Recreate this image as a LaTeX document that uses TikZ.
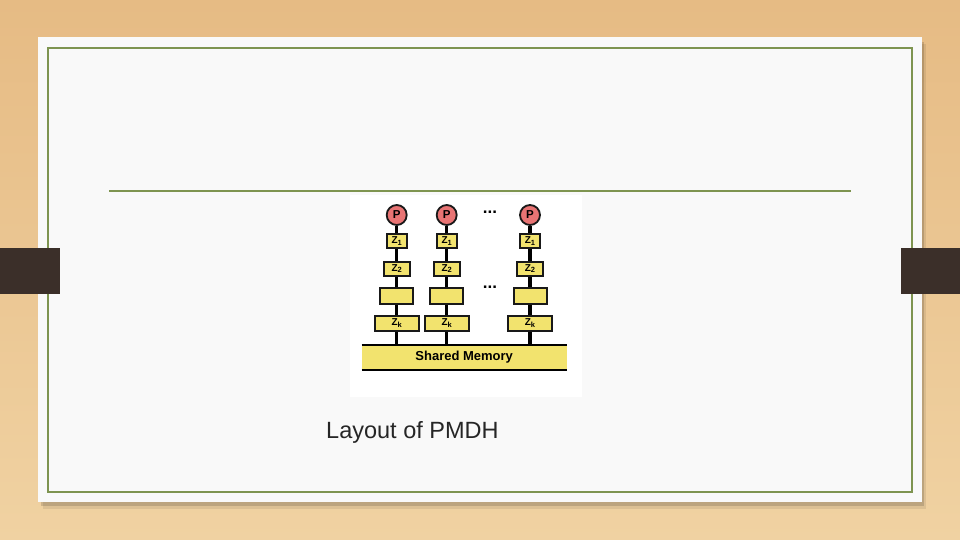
\documentclass[tikz,border=0pt]{standalone}
\usepackage{fontspec}
\setmainfont{Liberation Sans}
\definecolor{woodA}{HTML}{E6BB84}
\definecolor{woodB}{HTML}{F0D2A2}
\definecolor{panel}{HTML}{F9F9F9}
\definecolor{frame}{HTML}{7E9450}
\definecolor{tab}{HTML}{3B2F29}
\definecolor{boxy}{HTML}{F2E36E}
\definecolor{pcol}{HTML}{E87474}
\tikzset{
  zbox/.style={draw=black!90, line width=2pt, fill=boxy, inner sep=0pt, font=\fontsize{10}{10}\selectfont\bfseries},
  pnode/.style={circle, draw=black!90, line width=1.8pt, fill=pcol, minimum size=20pt, inner sep=0pt, font=\fontsize{11.5}{11.5}\selectfont\bfseries},
  bus/.style={line width=3.2pt, black},
  dots/.style={font=\fontsize{17}{17}\selectfont\bfseries}
}
\newcommand{\zsub}[1]{Z{\fontsize{7.5}{7.5}\selectfont\raisebox{-1.5pt}{#1}}}
\begin{document}
\begin{tikzpicture}[x=1pt,y=-1pt]
\useasboundingbox (0,0) rectangle (960,540);
% background wood
\shade[top color=woodA, bottom color=woodB] (0,0) rectangle (960,540);
% panel shadow
\fill[black, opacity=0.14] (41,42) rectangle (924,506);
\fill[black, opacity=0.08] (43,44) rectangle (926,509);
% panel
\fill[panel] (38,37) rectangle (922,502);
\draw[frame, line width=2pt] (47.8,48.3) rectangle (912.4,491.7);
% tabs
\fill[tab] (0,248) rectangle (60,294);
\fill[tab] (900.5,248) rectangle (960,294);
% title rule
\draw[frame, line width=2pt] (109,191) -- (851,191);
% image area
\fill[white] (350,195) rectangle (582,397);
% shared memory bar
\node[fill=boxy, minimum width=205pt, minimum height=25pt, inner sep=0pt,
      font=\fontsize{13}{13}\selectfont\bfseries] (sm) at (464.2,357.5) {Shared Memory};
\draw[line width=2.5pt, black] (sm.north west) -- (sm.north east);
\draw[line width=2.5pt, black] (sm.south west) -- (sm.south east);
% processors
\node[pnode] (p1) at (396.7,215) {P};
\node[pnode] (p2) at (446.7,215) {P};
\node[pnode] (p3) at (530,215) {P};
% buses
\foreach \i in {1,2,3}{
  \draw[bus] (p\i.south) -- (p\i |- sm.north);
}
% boxes
\foreach \i/\x in {1/396.7,2/446.7,3/530}{
  \node[zbox, minimum width=20pt, minimum height=14pt] (za\i) at (\x,241.3) {\zsub{1}};
  \node[zbox, minimum width=26pt, minimum height=14pt] (zb\i) at (\x,268.8) {\zsub{2}};
  \node[zbox, minimum width=33pt, minimum height=16pt] (zc\i) at (\x,295.5) {};
  \node[zbox, minimum width=44pt, minimum height=15pt] (zk\i) at (\x,323.3) {\zsub{k}};
}
\node[dots] (d1) at (490,212) {...};
\node[dots] (d2) at (490,287) {...};
% caption
\node[anchor=base west, font=\fontsize{23.5}{23.5}\selectfont, text=black!85, inner sep=0pt] (cap) at (326,438) {Layout of PMDH};
\end{tikzpicture}
\end{document}
